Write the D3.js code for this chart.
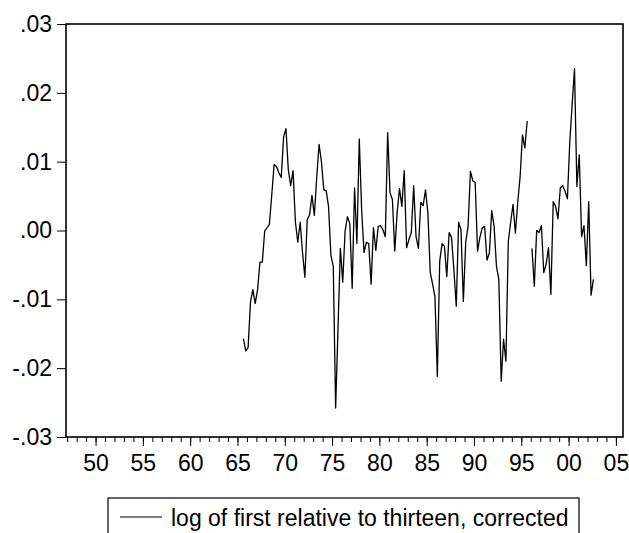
<!DOCTYPE html>
<html><head><meta charset="utf-8">
<script src="https://cdn.jsdelivr.net/npm/d3@7"></script>
<style>body{margin:0;background:#fff}svg{display:block}text{font-family:"Liberation Sans",Arial,Helvetica,sans-serif}</style>
</head><body>
<script>
// Quarterly series starting 1965Q3 (null = missing)
const startYear = 1965, startQuarter = 3;
const values = [
-0.0157,-0.0175,-0.0170,-0.0104,-0.0086,-0.0106,-0.0086,-0.0046,-0.0046,-0.0001,
0.0004,0.0009,0.0052,0.0096,0.0093,0.0084,0.0077,0.0136,0.0148,0.0088,
0.0065,0.0087,0.0012,-0.0017,0.0012,-0.0032,-0.0068,0.0016,0.0023,0.0051,
0.0022,0.0077,0.0125,0.0100,0.0059,0.0058,0.0035,-0.0036,-0.0052,-0.0258,
-0.0143,-0.0026,-0.0075,-0.0001,0.0020,0.0010,-0.0084,0.0062,-0.0019,0.0133,
0.0030,-0.0032,-0.0017,-0.0019,-0.0078,0.0004,-0.0029,0.0006,0.0007,0.0001,
-0.0009,0.0142,0.0055,0.0045,-0.0030,0.0026,0.0061,0.0035,0.0087,-0.0025,
-0.0013,-0.0003,0.0065,-0.0009,-0.0026,0.0041,0.0036,0.0059,0.0026,-0.0061,
-0.0078,-0.0096,-0.0212,-0.0045,-0.0019,-0.0023,-0.0067,-0.0003,-0.0010,-0.0057,
-0.0110,0.0012,0.0001,-0.0103,-0.0017,0.0006,0.0086,0.0072,0.0070,-0.0030,
-0.0010,0.0004,0.0006,-0.0043,-0.0033,0.0029,0.0006,-0.0052,-0.0071,-0.0219,
-0.0158,-0.0190,-0.0016,0.0012,0.0038,-0.0004,0.0041,0.0078,0.0139,0.0120,
0.0159,null,-0.0026,-0.0081,0.0000,-0.0003,0.0007,-0.0061,-0.0049,-0.0025,
-0.0093,0.0042,0.0035,0.0017,0.0062,0.0065,0.0057,0.0046,0.0129,0.0183,
0.0235,0.0064,0.0110,-0.0009,0.0007,-0.0051,0.0042,-0.0094,-0.0071
];
const yTicks = [0.03,0.02,0.01,0.00,-0.01,-0.02,-0.03];
const yTickLabels = [".03",".02",".01",".00","-.01","-.02","-.03"];
const xMajorYears = [1950,1955,1960,1965,1970,1975,1980,1985,1990,1995,2000,2005];
const xMajorLabels = ["50","55","60","65","70","75","80","85","90","95","00","05"];
const xMinorYears = d3.range(1947, 2006);
const legendLabel = "log of first relative to thirteen, corrected";

const W = 629, H = 533;
const L = 66, R = 623, T = 24, B = 437;
const FS = 23;
const svg = d3.select("body").append("svg").attr("width", W).attr("height", H);

const x = d3.scaleLinear().domain([1946.875, 2005.75]).range([L, R]);
const y = d3.scaleLinear().domain([-0.03, 0.03]).range([B, T]);

const data = values.map((v, i) => {
  const q = startQuarter - 1 + i;
  return { t: startYear + Math.floor(q / 4) + (q % 4) / 4 + 0.125, v };
});

// Y axis
const yAxis = d3.axisLeft(y).tickValues(yTicks).tickSize(9).tickPadding(5)
  .tickFormat((d, i) => yTickLabels[i]);
const gy = svg.append("g").attr("transform", `translate(${L},0)`).call(yAxis);
gy.select(".domain").remove();
gy.selectAll("line").attr("stroke", "#000").attr("stroke-width", 1);
gy.selectAll("text").attr("font-size", FS).attr("fill", "#000")
  .attr("font-family", '"Liberation Sans",Arial,sans-serif');

// X axis minor ticks
const xMinor = d3.axisBottom(x).tickValues(xMinorYears).tickSize(5).tickFormat("");
const gxm = svg.append("g").attr("transform", `translate(0,${B})`).call(xMinor);
gxm.select(".domain").remove();
gxm.selectAll("line").attr("stroke", "#000").attr("stroke-width", 1);

// X axis major ticks
const xMajor = d3.axisBottom(x).tickValues(xMajorYears).tickSize(9).tickPadding(9)
  .tickFormat((d, i) => xMajorLabels[i]);
const gx = svg.append("g").attr("transform", `translate(0,${B})`).call(xMajor);
gx.select(".domain").remove();
gx.selectAll("line").attr("stroke", "#000").attr("stroke-width", 1);
gx.selectAll("text").attr("font-size", FS).attr("fill", "#000")
  .attr("font-family", '"Liberation Sans",Arial,sans-serif');

// Frame
svg.append("rect").attr("x", L).attr("y", T).attr("width", R - L).attr("height", B - T)
  .attr("fill", "none").attr("stroke", "#000").attr("stroke-width", 1.6);

// Line
const line = d3.line().defined(d => d.v !== null).x(d => x(d.t)).y(d => y(d.v));
svg.append("path").datum(data).attr("d", line)
  .attr("fill", "none").attr("stroke", "#000").attr("stroke-width", 1.3)
  .attr("stroke-linejoin", "round");

// Legend
const lg = svg.append("g");
lg.append("rect").attr("x", 108).attr("y", 498).attr("width", 471).attr("height", 45)
  .attr("fill", "none").attr("stroke", "#000").attr("stroke-width", 1.2);
lg.append("line").attr("x1", 120).attr("x2", 162).attr("y1", 517).attr("y2", 517)
  .attr("stroke", "#000").attr("stroke-width", 1.2);
lg.append("text").attr("x", 171).attr("y", 526).attr("font-size", FS).attr("fill", "#000")
  .text(legendLabel);
</script>
</body></html>
